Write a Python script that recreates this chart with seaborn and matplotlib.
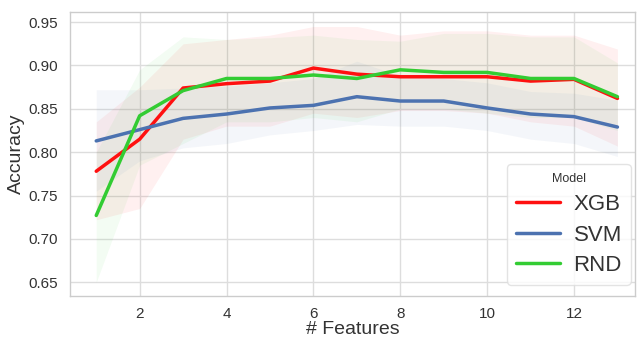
import numpy as np
import pandas as pd
import matplotlib
matplotlib.use("Agg")
import matplotlib.pyplot as plt
import seaborn as sns

features = [1, 2, 3, 4, 5, 6, 7, 8, 9, 10, 11, 12, 13]
models = ["XGB", "SVM", "RND"]

xgb_mean = [0.778, 0.815, 0.874, 0.879, 0.882, 0.897, 0.890, 0.887, 0.887, 0.887, 0.882, 0.884, 0.862]
xgb_low = [0.722, 0.735, 0.815, 0.830, 0.830, 0.845, 0.840, 0.848, 0.848, 0.845, 0.835, 0.830, 0.807]
xgb_high = [0.835, 0.875, 0.925, 0.930, 0.935, 0.945, 0.945, 0.935, 0.940, 0.940, 0.935, 0.935, 0.919]

svm_mean = [0.813, 0.826, 0.839, 0.844, 0.851, 0.854, 0.864, 0.859, 0.859, 0.851, 0.844, 0.841, 0.829]
svm_low = [0.755, 0.790, 0.805, 0.810, 0.820, 0.825, 0.832, 0.830, 0.830, 0.825, 0.815, 0.810, 0.795]
svm_high = [0.872, 0.872, 0.874, 0.876, 0.880, 0.885, 0.905, 0.888, 0.885, 0.880, 0.870, 0.868, 0.860]

rnd_mean = [0.727, 0.842, 0.871, 0.885, 0.885, 0.889, 0.885, 0.895, 0.892, 0.892, 0.885, 0.885, 0.864]
rnd_low = [0.650, 0.785, 0.810, 0.835, 0.835, 0.840, 0.835, 0.850, 0.850, 0.845, 0.840, 0.840, 0.825]
rnd_high = [0.800, 0.895, 0.933, 0.930, 0.932, 0.935, 0.930, 0.928, 0.937, 0.937, 0.933, 0.933, 0.903]

colors = {"XGB": "#ff1010", "SVM": "#4c72b0", "RND": "#33cc33"}

means = {"XGB": xgb_mean, "SVM": svm_mean, "RND": rnd_mean}
lows = {"XGB": xgb_low, "SVM": svm_low, "RND": rnd_low}
highs = {"XGB": xgb_high, "SVM": svm_high, "RND": rnd_high}

rows = []
for m in models:
    for f, v in zip(features, means[m]):
        rows.append({"# Features": f, "Accuracy": v, "Model": m})
df = pd.DataFrame(rows)

sns.set_theme(style="whitegrid")
plt.rcParams["font.family"] = ["Liberation Sans", "DejaVu Sans"]

fig = plt.figure(figsize=(6.38, 3.38), dpi=100)
ax = fig.add_axes([0.110, 0.124, 0.885, 0.840])

for m in models:
    ax.fill_between(features, lows[m], highs[m], color=colors[m], alpha=0.06, linewidth=0)

sns.lineplot(data=df, x="# Features", y="Accuracy", hue="Model", palette=colors,
             hue_order=models, linewidth=2.5, ax=ax)

ax.set_xlim(0.4, 13.4)
ax.set_ylim(0.634, 0.9615)
ax.set_xticks([2, 4, 6, 8, 10, 12])
ax.set_yticks([0.65, 0.70, 0.75, 0.80, 0.85, 0.90, 0.95])
ax.set_yticklabels(["0.65", "0.70", "0.75", "0.80", "0.85", "0.90", "0.95"])
ax.tick_params(axis="x", labelsize=11, colors="#333333", pad=2)
ax.tick_params(axis="y", labelsize=11, colors="#333333", pad=3)
ax.set_xlabel("# Features", fontsize=14, color="#333333", labelpad=0)
ax.set_ylabel("Accuracy", fontsize=14, color="#333333", labelpad=2)
for s in ax.spines.values():
    s.set_color("#cccccc")
    s.set_linewidth(1.0)
ax.grid(color="#dddddd", linewidth=1.0)

leg = ax.legend(title="Model", loc="lower right", bbox_to_anchor=(0.993, 0.04),
                fontsize=16, title_fontsize=9, borderaxespad=0,
                frameon=True, handlelength=2.0, handletextpad=0.6,
                borderpad=0.4, labelspacing=0.42)
leg.get_frame().set_edgecolor("#dddddd")
for t in leg.get_texts():
    t.set_color("#333333")
leg.get_title().set_color("#333333")

fig.savefig("out.png", dpi=100)
